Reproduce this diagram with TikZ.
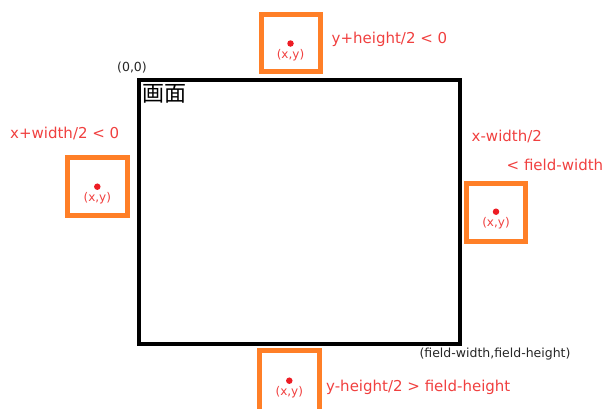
\documentclass[tikz,border=0pt]{standalone}
\usepackage{fontspec}
\setmainfont{DejaVu Sans}
\newfontfamily\cjk{Noto Sans CJK JP}
\definecolor{boxorange}{HTML}{FF7F27}
\definecolor{dotred}{HTML}{ED1C24}
\definecolor{labred}{HTML}{F0403F}
\begin{document}
\begin{tikzpicture}[x=1pt,y=-1pt,
  frame/.style={draw=black,line width=4pt},
  objbox/.style={draw=boxorange,line width=5pt},
  dot/.style={circle,fill=dotred,inner sep=0pt,minimum size=6.5pt},
  xylab/.style={text=labred,font=\fontsize{12}{14}\selectfont,inner sep=0pt},
  cond/.style={text=labred,font=\fontsize{15}{17}\selectfont,inner sep=0pt,anchor=west},
  coord/.style={text=black!85,font=\fontsize{12.5}{14}\selectfont,inner sep=0pt}]
\useasboundingbox (0,0) rectangle (603,408);
% screen
\draw[frame] (138.5,79.5) rectangle (459.5,343.5);
\node[anchor=north west,inner sep=0pt,font=\cjk\fontsize{22}{24}\selectfont] (scr) at (142,84.5) {画面};
\node[coord] (origin) at (132,68) {(0,0)};
\node[coord] (corner) at (495,354) {(field-width,field-height)};
% top object
\draw[objbox] (261.5,14.5) rectangle (320.5,71.5);
\node[dot] (dtop) at (290.5,43.5) {};
\node[xylab] (xytop) at (290.5,55.5) {(x,y)};
\node[cond] (ctop) at (331.5,39.5) {y+height/2 < 0};
% left object
\draw[objbox] (67.5,157.5) rectangle (127,215.5);
\node[dot] (dleft) at (97.3,186.7) {};
\node[xylab] (xyleft) at (97.3,198.5) {(x,y)};
\node[cond] (cleft) at (10,133) {x+width/2 < 0};
% right object
\draw[objbox] (466.5,183) rectangle (525.5,241);
\node[dot] (dright) at (496,211.7) {};
\node[xylab] (xyright) at (496,223.5) {(x,y)};
\node[cond] (cright1) at (471.5,136) {x-width/2};
\node[cond] (cright2) at (506.5,164.5) {< field-width};
% bottom object
\draw[objbox] (259.5,350) rectangle (319,412);
\node[dot] (dbot) at (289.3,380.7) {};
\node[xylab] (xybot) at (289.3,392) {(x,y)};
\node[cond] (cbot) at (326,387) {y-height/2 > field-height};
\end{tikzpicture}
\end{document}
